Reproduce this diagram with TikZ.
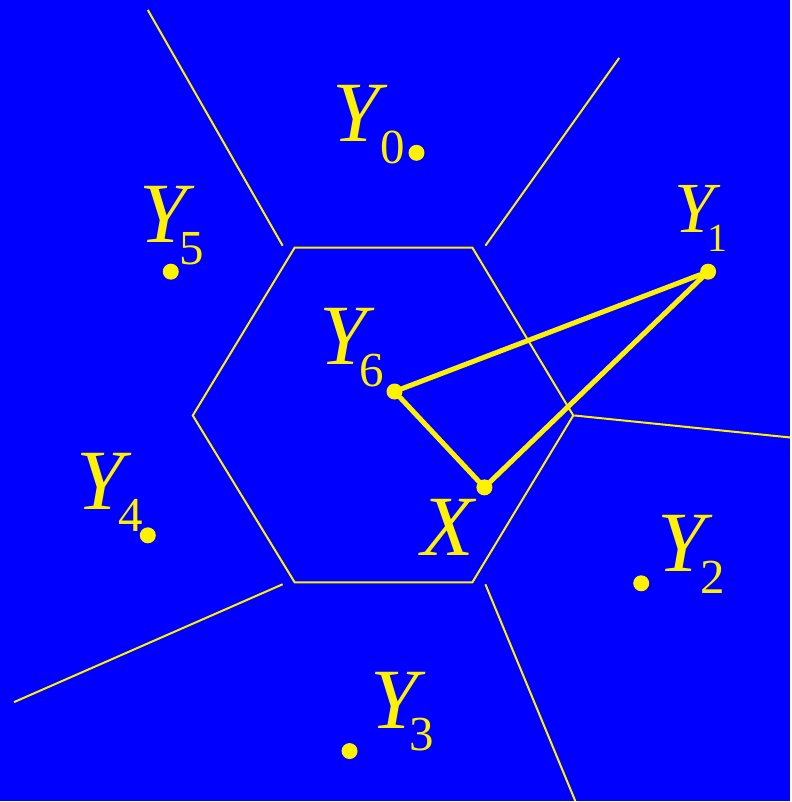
\documentclass[tikz,border=0pt]{standalone}
\usepackage{fontspec}
\setmainfont{Liberation Serif}
\usetikzlibrary{positioning}

\newcommand{\ylab}[2][-6pt]{{\itshape Y}\kern#1\raisebox{-22pt}{\fontsize{49}{49}\selectfont #2}}

\begin{document}
\begin{tikzpicture}[x=1pt, y=-1pt,
    pt/.style={circle, fill=yellow, inner sep=0pt, minimum size=16pt},
    lbl/.style={anchor=base west, inner sep=0pt, text=yellow, font=\fontsize{86}{86}\selectfont},
    cell/.style={draw=yellow, line width=2pt},
    link/.style={draw=yellow, line width=5pt, line cap=round}
  ]
  \fill[blue] (0,0) rectangle (791,802);

  % hexagonal cell
  \coordinate (h1) at (295,248);
  \coordinate (h2) at (473,248);
  \coordinate (h3) at (574,416);
  \coordinate (h4) at (473,583);
  \coordinate (h5) at (295,583);
  \coordinate (h6) at (193,416);
  \draw[cell] (h1) -- (h2) -- (h3) -- (h4) -- (h5) -- (h6) -- cycle;

  % borders to the neighbours
  \coordinate (r1a) at (283,246); \coordinate (r1b) at (148,10);
  \coordinate (r2a) at (486,246); \coordinate (r2b) at (620,58);
  \coordinate (r3a) at (575,416); \coordinate (r3b) at (791,438);
  \coordinate (r4a) at (486,585); \coordinate (r4b) at (576,802);
  \coordinate (r5a) at (283,585); \coordinate (r5b) at (14,703);
  \draw[cell] (r1a) -- (r1b);
  \draw[cell] (r2a) -- (r2b);
  \draw[cell] (r3a) -- (r3b);
  \draw[cell] (r4a) -- (r4b);
  \draw[cell] (r5a) -- (r5b);

  % points
  \node[pt] (y0) at (417,153) {};
  \node[pt] (y1) at (709,272) {};
  \node[pt] (y2) at (642,584) {};
  \node[pt] (y3) at (350,752) {};
  \node[pt] (y4) at (148,536) {};
  \node[pt] (y5) at (171,272) {};
  \node[pt] (y6) at (395,392) {};
  \node[pt] (x) at (485,488) {};

  % labels
  \node[lbl] (ly0) at (333,142) {\ylab[0pt]{0}};
  \node[lbl, font=\fontsize{72}{72}\selectfont] (ly1) at (675,233)
    {{\itshape Y}\kern-7pt\raisebox{-19pt}{\fontsize{40}{40}\selectfont 1}};
  \node[lbl] (ly2) at (658,572) {\ylab[-5pt]{2}};
  \node[lbl] (ly3) at (371,729) {\ylab[-9pt]{3}};
  \node[lbl] (ly4) at (76,510) {\ylab[-5pt]{4}};
  \node[lbl] (ly5) at (139,243) {\ylab[-7pt]{5}};
  \node[lbl] (ly6) at (320,365) {\ylab[-8pt]{6}};
  \node[lbl] (lx) at (422,556) {\itshape X};

  % triangle
  \draw[link] (y6) -- (y1);
  \draw[link] (y1) -- (x);
  \draw[link] (x) -- (y6);

\end{tikzpicture}
\end{document}
